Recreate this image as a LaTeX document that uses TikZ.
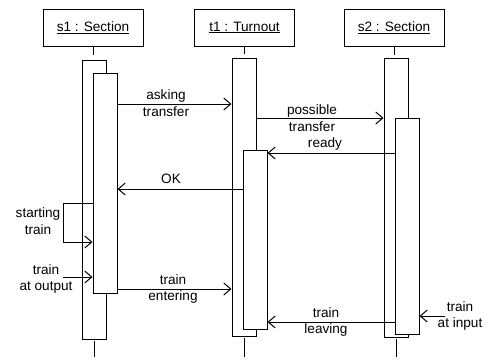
\documentclass[tikz,border=0pt]{standalone}
\usepackage{fontspec}
\setmainfont{Liberation Sans}
\usetikzlibrary{arrows.meta,positioning,fit}

\begin{document}
\begin{tikzpicture}[x=1pt, y=-1pt,
    objbox/.style={rectangle, draw, line width=1pt, minimum width=100pt, minimum height=37pt,
      font=\fontsize{13.6}{16}\selectfont},
    actbox/.style={rectangle, draw, fill=white, line width=1pt, inner sep=0pt},
    lifeline/.style={line width=1pt},
    msg/.style={line width=1pt, -{Straight Barb[length=7pt,width=12pt]}},
    lbl/.style={align=center, inner sep=0pt, font=\fontsize{13.6}{16.5}\selectfont}
  ]
    \useasboundingbox (0,0) rectangle (489,362);

    % objects
    \node[objbox] (s1) at (93,27.5)    {\underline{s1 : Section}};
    \node[objbox] (t1) at (244.5,27.5) {\underline{t1 : Turnout}};
    \node[objbox] (s2) at (394,27.5)   {\underline{s2 : Section}};

    % activations
    \node[actbox, fit={(82,60) (106,339)}]   (s1out) {};
    \node[actbox, fit={(93,73) (117,293)}]   (s1in)  {};
    \node[actbox, fit={(232,58) (256,336)}]  (t1out) {};
    \node[actbox, fit={(243,150) (267,329)}] (t1in)  {};
    \node[actbox, fit={(384,58) (408,337)}]  (s2out) {};
    \node[actbox, fit={(395,118) (419,334)}] (s2in)  {};

    % lifelines
    \draw[lifeline] (s1.south) -- ++(0,8);
    \draw[lifeline] (t1.south) -- ++(0,7);
    \draw[lifeline] (s2.south) -- ++(0,8);
    \draw[lifeline] ([yshift=-1pt]s1out.south) -- (s1out.south |- 0,357);
    \draw[lifeline] ([yshift=-1pt]t1out.south) -- (t1out.south |- 0,357);
    \draw[lifeline] ([yshift=-1pt]s2out.south) -- (s2out.south |- 0,357);

    % messages
    \draw[msg] (s1in.east |- 0,104) -- (t1out.west |- 0,104);
    \node[lbl] (lask) at (166,103) {asking\\transfer};

    \draw[msg] (t1out.east |- 0,118) -- (s2out.west |- 0,118);
    \node[lbl] (lposs) at (312,118) {possible\\transfer};

    \draw[msg] (s2in.west |- 0,153) -- (t1in.east |- 0,153);
    \node[lbl, anchor=base] (lready) at (325,147) {ready};

    \draw[msg] (t1in.west |- 0,189) -- (s1in.east |- 0,189);
    \node[lbl, anchor=base] (lok) at (171,183) {OK};

    \coordinate (selfl) at (63,203);
    \draw[msg] (s1in.west |- selfl) -- (selfl) -- (63,242) -- (s1in.west |- 0,242);
    \node[lbl] (lstart) at (38,221) {starting\\train};

    \coordinate (outsrc) at (63,277);
    \draw[msg] (outsrc) -- (s1in.west |- outsrc);
    \node[lbl] (lout) at (46,279) {train\\at output};

    \draw[msg] (s1in.east |- 0,289) -- (t1out.west |- 0,289);
    \node[lbl] (lenter) at (173,289) {train\\entering};

    \draw[msg] (s2in.west |- 0,322) -- (t1in.east |- 0,322);
    \node[lbl] (lleave) at (326,322) {train\\leaving};

    \coordinate (insrc) at (445,316);
    \draw[msg] (insrc) -- (s2in.east |- insrc);
    \node[lbl] (lin) at (460,316) {train\\at input};
\end{tikzpicture}
\end{document}
